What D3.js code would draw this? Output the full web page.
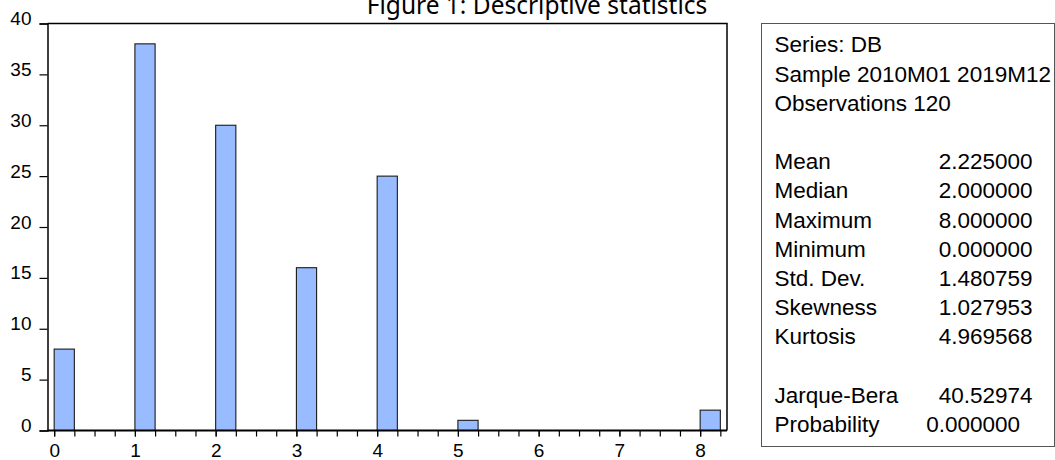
<!DOCTYPE html>
<html>
<head>
<meta charset="utf-8">
<script src="https://cdn.jsdelivr.net/npm/d3@7"></script>
<style>
  html, body { margin: 0; padding: 0; background: #fff; }
  svg { display: block; }
  text { font-family: "Liberation Sans", Arial, sans-serif; fill: #000; }
</style>
</head>
<body>
<script>
// ---- data ----
const binStarts = [0, 1, 2, 3, 4, 5, 6, 7, 8];
const binCounts = [8, 38, 30, 16, 25, 1, 0, 0, 2];
const binWidth = 0.25;
const xTickLabels = ["0", "1", "2", "3", "4", "5", "6", "7", "8"];
const yTickValues = [0, 5, 10, 15, 20, 25, 30, 35, 40];
const titleText = "Figure 1: Descriptive statistics";
const headerLines = ["Series: DB", "Sample 2010M01 2019M12", "Observations 120"];
const statLabels = ["Mean", "Median", "Maximum", "Minimum", "Std. Dev.", "Skewness", "Kurtosis"];
const statValues = ["2.225000", "2.000000", "8.000000", "0.000000", "1.480759", "1.027953", "4.969568"];
const testLabels = ["Jarque-Bera", "Probability"];
const testValues = ["40.52974", "0.000000"];

// ---- layout ----
const W = 1055, H = 460;
const plot = { left: 47.5, right: 727, top: 23.5, bottom: 430.5 };

const svg = d3.select("body").append("svg").attr("width", W).attr("height", H);
svg.append("rect").attr("width", W).attr("height", H).attr("fill", "#fff");

const x = d3.scaleLinear().domain([-0.0825, 8.3325]).range([plot.left, plot.right]);
const y = d3.scaleLinear().domain([0, 40]).range([plot.bottom, plot.top]);

// title
svg.append("text")
  .attr("x", 537).attr("y", 14)
  .attr("text-anchor", "middle")
  .style("font-family", "'Noto Sans', 'Open Sans', sans-serif")
  .style("font-size", "24.5px")
  .text(titleText);

// bars
const bars = binStarts.map((b, i) => ({ start: b, count: binCounts[i] })).filter(d => d.count > 0);
svg.append("g").selectAll("rect").data(bars).enter().append("rect")
  .attr("x", d => x(d.start))
  .attr("y", d => y(d.count))
  .attr("width", d => x(d.start + binWidth) - x(d.start))
  .attr("height", d => y(0) - y(d.count))
  .attr("fill", "#99bbff")
  .attr("stroke", "#1a1a1a")
  .attr("stroke-width", 1.1);

// frame
svg.append("path")
  .attr("d", `M${plot.left},${plot.top}H${plot.right}V${plot.bottom}`)
  .attr("fill", "none").attr("stroke", "#000").attr("stroke-width", 1.5);

// y axis
const yAxis = d3.axisLeft(y).tickValues(yTickValues).tickSize(8).tickPadding(8).tickFormat(d3.format("d"));
const gy = svg.append("g").attr("transform", `translate(${plot.left},0)`).call(yAxis);
gy.select(".domain").attr("stroke", "#000").attr("stroke-width", 1.5);
gy.selectAll(".tick line").attr("stroke", "#000").attr("stroke-width", 1.2);
gy.selectAll(".tick text")
  .attr("dy", null).attr("y", 1)
  .style("font-family", "'Liberation Sans', Arial, sans-serif")
  .style("font-size", "19px").attr("fill", "#000");

// x axis
const minorTicks = d3.range(0, 8.25 + 1e-9, binWidth);
const xAxisMinor = d3.axisBottom(x).tickValues(minorTicks).tickSize(6).tickFormat("");
const gxm = svg.append("g").attr("transform", `translate(0,${plot.bottom})`).call(xAxisMinor);
gxm.select(".domain").remove();
gxm.selectAll(".tick line").attr("stroke", "#000").attr("stroke-width", 1.2);

const xAxis = d3.axisBottom(x).tickValues(binStarts).tickSize(6).tickPadding(7)
  .tickFormat((d, i) => xTickLabels[i]);
const gx = svg.append("g").attr("transform", `translate(0,${plot.bottom})`).call(xAxis);
gx.select(".domain").attr("d", `M${plot.left},0H${plot.right}`).attr("stroke", "#000").attr("stroke-width", 1.8);
gx.selectAll(".tick line").attr("stroke", "#000").attr("stroke-width", 1.2);
gx.selectAll(".tick text")
  .style("font-family", "'Liberation Sans', Arial, sans-serif")
  .style("font-size", "19px").attr("fill", "#000");

// statistics box
const box = { left: 761.5, right: 1054.5, top: 23.5, bottom: 446.5 };
svg.append("rect")
  .attr("x", box.left).attr("y", box.top)
  .attr("width", box.right - box.left).attr("height", box.bottom - box.top)
  .attr("fill", "#fff").attr("stroke", "#555").attr("stroke-width", 1);

const rowY = i => 52.3 + i * 29.2;
const labelX = 774.5, valueX = 1032.5;
const fs = "22.5px";
const g = svg.append("g").style("font-size", fs);

headerLines.forEach((t, i) => {
  g.append("text").attr("x", labelX).attr("y", rowY(i)).text(t);
});
statLabels.forEach((t, i) => {
  g.append("text").attr("x", labelX).attr("y", rowY(4 + i)).text(t);
  g.append("text").attr("x", valueX).attr("y", rowY(4 + i)).attr("text-anchor", "end").text(statValues[i]);
});
testLabels.forEach((t, i) => {
  g.append("text").attr("x", labelX).attr("y", rowY(12 + i)).text(t);
  g.append("text").attr("x", i === 1 ? valueX - 12.5 : valueX).attr("y", rowY(12 + i))
    .attr("text-anchor", "end").text(testValues[i]);
});
</script>
</body>
</html>
